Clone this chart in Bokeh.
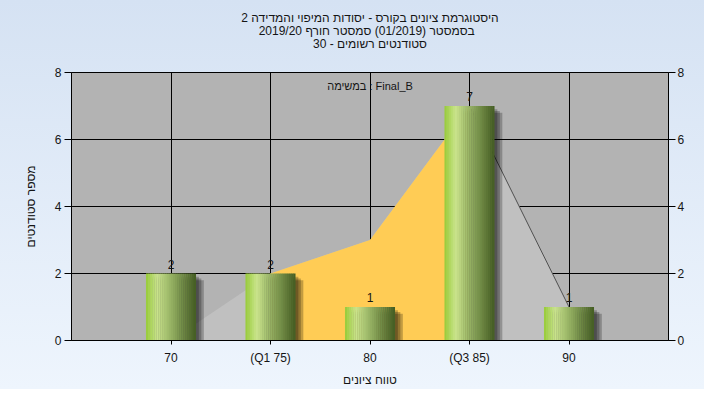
from bokeh.plotting import figure
from bokeh.models import Range1d, LinearAxis, FixedTicker, Label, Title
from bokeh.embed import file_html
from bokeh.resources import INLINE

# ---------------- data ----------------
categories = [1, 2, 3, 4, 5]
tick_labels = ["70", "(Q1 75)", "80", "(Q3 85)", "90"]
counts = [2, 2, 1, 7, 1]
curve = [0, 2, 3, 7, 1]
iqr_x = [2, 3, 4]
iqr_y = [2, 3, 7]
y_ticks = [0, 2, 4, 6, 8]
title_lines = [
    "היסטוגרמת ציונים בקורס - יסודות המיפוי והמדידה 2",
    "בסמסטר  (01/2019)  סמסטר חורף 2019/20",
    "סטודנטים רשומים - 30",
]
task_label = "במשימה : Final_B"
x_title = "טווח ציונים"
y_title = "מספר סטודנטים"

FONT = "Liberation Sans"
TXT = "#151515"

p = figure(width=704, height=389, x_range=Range1d(0, 6), y_range=Range1d(0, 8),
           output_backend="svg", toolbar_location=None,
           min_border_left=71, min_border_right=36, min_border_bottom=46, min_border_top=72)

p.styles = {"background": "linear-gradient(#d5e2f3, #eef5fd)"}
p.border_fill_alpha = 0
p.background_fill_color = "#b3b3b3"
p.outline_line_color = "black"
p.outline_line_width = 1

# title lines, stacked upward from the plot area (a blank spacer first)
p.add_layout(Title(text="\u00a0", standoff=7, text_font=FONT, text_font_size="12px",
                   text_font_style="normal"), "above")
for line in reversed(title_lines):
    p.add_layout(Title(text=line, align="center", offset=-9, standoff=-3,
                       text_font=FONT, text_font_size="12px", text_font_style="normal",
                       text_color=TXT), "above")

# grids
p.xgrid.ticker = FixedTicker(ticks=categories)
p.ygrid.ticker = FixedTicker(ticks=y_ticks)
for g in (p.xgrid, p.ygrid):
    g.grid_line_color = "black"
    g.grid_line_alpha = 1
    g.grid_line_width = 1

# axes
p.xaxis.ticker = FixedTicker(ticks=categories)
p.xaxis.major_label_overrides = {c: t for c, t in zip(categories, tick_labels)}
p.xaxis.axis_label = x_title
p.xaxis.major_tick_out = 4
p.xaxis.major_tick_in = 0
p.xaxis.major_label_standoff = 6
p.xaxis.axis_label_standoff = 5

p.yaxis.ticker = FixedTicker(ticks=y_ticks)
p.yaxis.axis_label = y_title
p.yaxis.major_tick_out = 7
p.yaxis.major_tick_in = 0
p.yaxis.major_label_standoff = 3
p.yaxis.axis_label_standoff = 14

ry = LinearAxis(ticker=FixedTicker(ticks=y_ticks))
ry.major_tick_out = 7
ry.major_tick_in = 0
ry.major_label_standoff = 2
p.add_layout(ry, "right")

for ax in [p.xaxis[0], p.yaxis[0], ry]:
    ax.minor_tick_line_color = None
    ax.axis_line_color = "black"
    ax.major_tick_line_color = "black"
    ax.major_label_text_font = FONT
    ax.major_label_text_font_size = "12px"
    ax.major_label_text_color = TXT
    ax.axis_label_text_font = FONT
    ax.axis_label_text_font_size = "12px"
    ax.axis_label_text_font_style = "normal"
    ax.axis_label_text_color = TXT

# areas
p.varea(x=categories, y1=[0] * len(categories), y2=curve, fill_color="#c0c0c0")
p.varea(x=iqr_x, y1=[0] * len(iqr_x), y2=iqr_y, fill_color="#ffcc55")
p.line(x=categories[3:], y=curve[3:], line_color="#505050", line_width=1)

# bar shadows
bw = 0.5
for k, a in enumerate([0.24, 0.24, 0.24]):
    dx = 0.03 + 0.025 * k
    p.vbar(x=[c + dx for c in categories], top=[v - 0.1 - 0.05 * k for v in counts],
           bottom=-1, width=bw, fill_color="black", fill_alpha=a, line_color=None)

# bar gradient strips
stops = [(0.0, (150, 203, 55)), (0.22, (202, 228, 140)), (0.5, (150, 178, 100)), (1.0, (68, 92, 34))]


def grad(t):
    for (t0, c0), (t1, c1) in zip(stops[:-1], stops[1:]):
        if t0 <= t <= t1:
            f = (t - t0) / (t1 - t0)
            return "#%02x%02x%02x" % tuple(int(round(a + (b - a) * f)) for a, b in zip(c0, c1))
    return "#%02x%02x%02x" % stops[-1][1]


N = 24
sw = bw / N
for i in range(N):
    off = -bw / 2 + (i + 0.5) * sw
    p.vbar(x=[c + off for c in categories], top=counts, width=sw * 1.15,
           fill_color=grad((i + 0.5) / N), line_color=None)

# value labels
p.text(x=categories, y=counts, text=[str(v) for v in counts], text_align="center",
       text_baseline="bottom", y_offset=-5, text_font_size="12px", text_color=TXT,
       text_font={"value": FONT})

p.add_layout(Label(x=3, y=7.6, text=task_label, text_align="center", text_baseline="middle",
                   text_font=FONT, text_font_size="11px", text_color=TXT))

open("out.html", "w").write(file_html(p, INLINE))
